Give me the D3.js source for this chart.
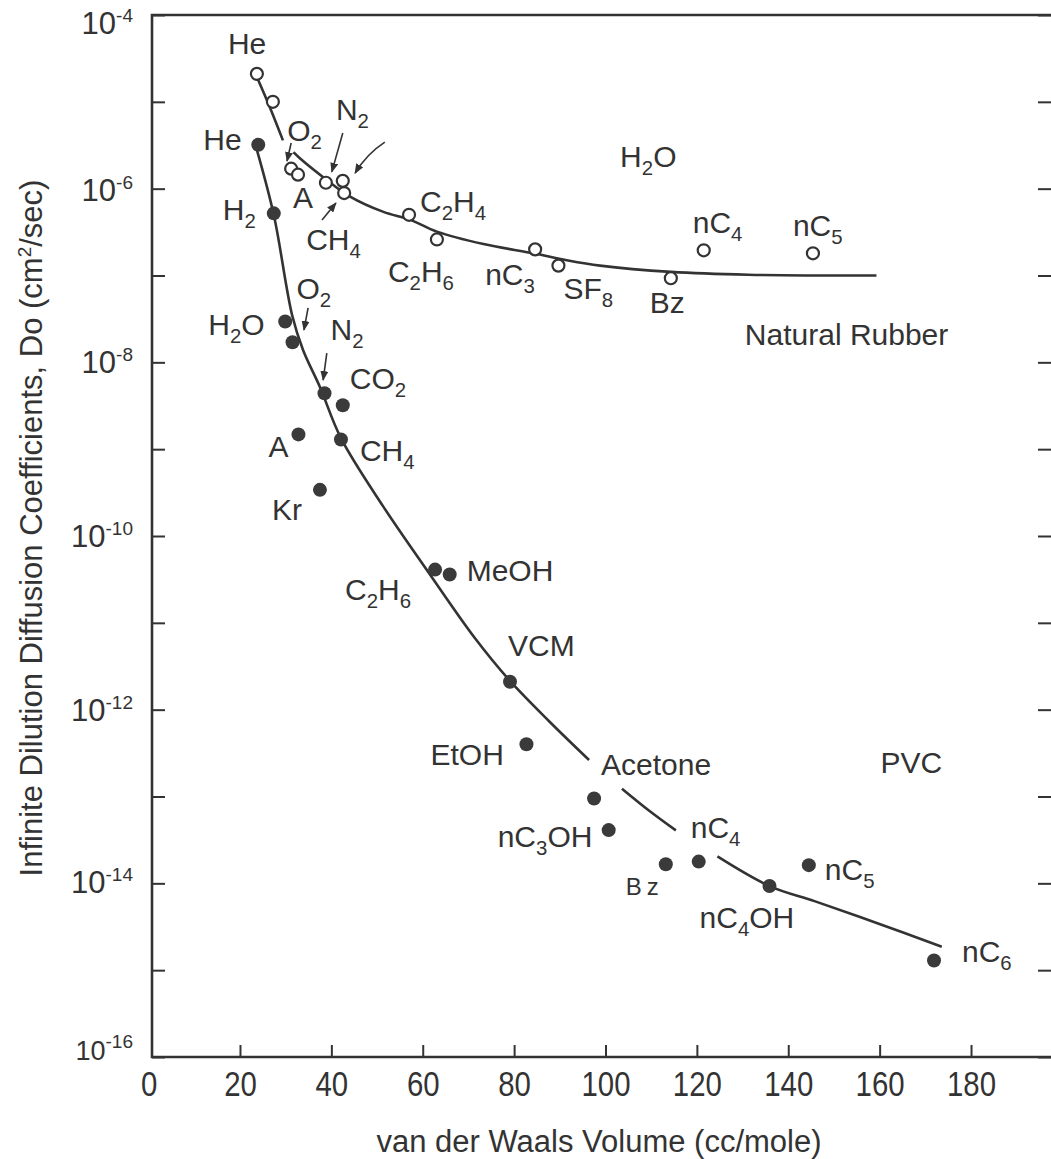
<!DOCTYPE html>
<html>
<head>
<meta charset="utf-8">
<script src="https://cdn.jsdelivr.net/npm/d3@7"></script>
<style>
  body { margin: 0; background: #fff; }
  svg { display: block; font-family: "Liberation Sans", Arial, sans-serif; }
</style>
</head>
<body>
<div id="chart"></div>
<script>
// natural rubber, open circles
const rubberGases = ["He", "", "O2", "A", "N2", "", "CH4", "C2H4", "C2H6", "nC3", "SF8", "Bz", "nC4", "nC5"];
const rubberVolume = [23.7, 27.2, 31.2, 32.7, 38.8, 42.5, 42.8, 57.0, 63.1, 84.6, 89.7, 114.3, 121.5, 145.4];
const rubberDo = [2.1e-5, 1.0e-5, 1.7e-6, 1.45e-6, 1.17e-6, 1.23e-6, 8.9e-7, 5.0e-7, 2.6e-7, 2.0e-7, 1.3e-7, 9.3e-8, 1.95e-7, 1.8e-7];

// PVC, filled circles
const pvcGases = ["He", "H2", "H2O", "O2", "N2", "CO2", "A", "CH4", "Kr", "C2H6", "MeOH", "VCM", "EtOH", "Acetone", "nC3OH", "Bz", "nC4", "nC4OH", "nC5", "nC6"];
const pvcVolume = [24.0, 27.4, 29.9, 31.5, 38.5, 42.5, 32.8, 42.1, 37.5, 62.7, 65.9, 79.1, 82.7, 97.5, 100.7, 113.2, 120.4, 135.9, 144.5, 171.9];
const pvcDo = [3.2e-6, 5.2e-7, 2.95e-8, 1.7e-8, 4.4e-9, 3.2e-9, 1.48e-9, 1.29e-9, 3.4e-10, 4.1e-11, 3.6e-11, 2.1e-12, 4.0e-13, 9.5e-14, 4.1e-14, 1.66e-14, 1.78e-14, 9.3e-15, 1.62e-14, 1.29e-15];

// hand drawn fit curves [volume, Do], broken where a label sits
const rubberCurve = [
  [[23.7, 1.93e-5], [26.6, 8.5e-6], [29.4, 3.6e-6]],
  [[31.7, 2.63e-6], [33.1, 2.24e-6], [39.0, 1.26e-6], [44.1, 8.1e-7], [51.4, 5.4e-7], [57.2, 4.4e-7],
   [63.1, 3.2e-7], [73.3, 2.3e-7], [84.2, 1.8e-7], [91.5, 1.5e-7], [98.8, 1.3e-7], [114.3, 1.1e-7],
   [131.2, 1.02e-7], [159.3, 1.0e-7]]
];
const pvcCurve = [
  [[23.7, 2.79e-6], [27.45, 4.84e-7], [31.4, 3.51e-8], [33.8, 1.39e-8], [37.5, 5.2e-9], [42.1, 1.34e-9],
   [51.3, 2.21e-10], [60.9, 4.06e-11], [71.4, 6.68e-12], [79.1, 2.14e-12], [87.6, 7.4e-13], [96.4, 2.63e-13]],
  [[103.6, 1.23e-13], [109.5, 6.9e-14], [115.4, 4.07e-14]],
  [[124.5, 2.04e-14], [135.9, 9.3e-15], [145.9, 6.2e-15], [159.5, 3.47e-15], [173.6, 1.86e-15]]
];

// pointer arrows [fromVolume, fromDo, toVolume, toDo]
const arrows = [
  [31.2, 3.36e-6, 30.3, 2.08e-6],
  [42.5, 4.38e-6, 40.1, 1.56e-6],
  [51.7, 3.44e-6, 45.2, 1.51e-6],
  [37.95, 4.36e-7, 41.0, 6.84e-7],
  [34.9, 4.23e-8, 34.0, 2.36e-8],
  [39.0, 1.28e-8, 38.2, 6.25e-9]
];
const arrowBend = [0, 0, 5, 0, 0, 0];

// free texts [text, volume, Do]
const notes = [["H2O", 103.2, 1.78e-6], ["Natural Rubber", 130.5, 1.58e-8], ["PVC", 160.2, 1.86e-13]];

const xTicks = [0, 20, 40, 60, 80, 100, 120, 140, 160, 180];
const yDecades = d3.range(-4, -17, -1);
const yLabelled = [-4, -6, -8, -10, -12, -14, -16];
// the pasted-up labels do not sit at the same height against their tick
const yLabelShift = [19, 12, 11, 11, 11, 10, 3];

// label offsets in px from each point (text start, baseline)
const rubberLabelPos = [[-29, -20], null, [-4, -28], [-5, 33], [10, -63], null, [-38, 57], [11, -3],
  [-49, 43], [-50, 36], [5, 33], [-21, 35], [-11, -17], [-20, -17]];
const pvcLabelPos = [[-55, 5], [-51, 7], [-77, 13], [4, -43], [6, -53], [7, -16], [-30, 23], [19, 21],
  [-48, 30], [-90, 30], [17, 6], [-2, -26], [-96, 21], [7, -23], [-111, 17], [-40, 31], [-8, -24],
  [-70, 42], [16, 15], [28, 1]];

const width = 1051, height = 1159;
const ink = "#333";
const labelSize = 30;
const frame = { left: 152, top: 15, right: 1051, bottom: 1057 };

const x = d3.scaleLinear().domain([0, 200]).range([148.6, 148.6 + 4.569 * 200]);
const y = d3.scaleLog().domain([1e-4, 1e-16]).range([frame.top, frame.bottom]);

const svg = d3.select("#chart").append("svg")
  .attr("width", width).attr("height", height);

svg.append("defs").append("marker")
  .attr("id", "head").attr("viewBox", "0 0 10 8")
  .attr("refX", 9).attr("refY", 4)
  .attr("markerWidth", 10).attr("markerHeight", 8)
  .attr("markerUnits", "userSpaceOnUse")
  .attr("orient", "auto")
  .append("path").attr("d", "M0,0L10,4L0,8Z").attr("fill", ink);

// frame
svg.append("path")
  .attr("d", `M${frame.right},${frame.top}H${frame.left}V${frame.bottom}H${frame.right}`)
  .attr("fill", "none").attr("stroke", ink).attr("stroke-width", 2.6);

// axes (ticks point inwards)
const leftAxis = svg.append("g").attr("transform", `translate(${frame.left},0)`)
  .call(d3.axisLeft(y).tickValues(yDecades.map(p => Math.pow(10, p))).tickSize(-13).tickFormat(""));
const rightAxis = svg.append("g").attr("transform", `translate(${frame.right},0)`)
  .call(d3.axisRight(y).tickValues(yDecades.map(p => Math.pow(10, p))).tickSize(-13).tickFormat(""));
const bottomAxis = svg.append("g").attr("transform", `translate(0,${frame.bottom})`)
  .call(d3.axisBottom(x).tickValues(xTicks).tickSize(-12).tickPadding(14));
[leftAxis, rightAxis, bottomAxis].forEach(g => {
  g.select(".domain").remove();
  g.selectAll(".tick line").attr("stroke", ink).attr("stroke-width", 2);
});
bottomAxis.selectAll(".tick").filter(d => d === 0).select("line").remove();
bottomAxis.selectAll(".tick text")
  .attr("fill", ink).attr("font-size", 35)
  .attr("transform", "scale(0.84,1)")
  .attr("font-family", "'Liberation Sans', Arial, sans-serif");

// y tick labels 10^n
const yLab = svg.append("g").attr("fill", ink);
yLabelled.forEach((p, i) => {
  const t = yLab.append("text")
    .attr("x", 133).attr("y", y(Math.pow(10, p)) + yLabelShift[i])
    .attr("text-anchor", "end").attr("font-size", i === yLabelled.length - 1 ? 27 : 31);
  t.append("tspan").text("10");
  t.append("tspan").attr("font-size", 19).attr("dy", -12).text("-" + Math.abs(p));
});

// axis titles
svg.append("text")
  .attr("x", 599).attr("y", 1152)
  .attr("text-anchor", "middle").attr("font-size", 31).attr("fill", ink)
  .text("van der Waals Volume (cc/mole)");
const yt = svg.append("text")
  .attr("transform", "translate(42,528) rotate(-90)")
  .attr("text-anchor", "middle").attr("font-size", 31).attr("fill", ink);
yt.append("tspan").text("Infinite Dilution Diffusion Coefficients, Do (cm");
yt.append("tspan").attr("font-size", 19).attr("dy", -11).text("2");
yt.append("tspan").attr("dy", 11).text("/sec)");

// curves
const line = d3.line().x(d => x(d[0])).y(d => y(d[1])).curve(d3.curveCatmullRom.alpha(0.5));
svg.append("g").selectAll("path")
  .data(rubberCurve.concat(pvcCurve))
  .join("path")
  .attr("d", line)
  .attr("fill", "none").attr("stroke", ink).attr("stroke-width", 2.6);

// arrows, the third one slightly bowed
svg.append("g").selectAll("path")
  .data(arrows)
  .join("path")
  .attr("d", (d, i) => {
    const x1 = x(d[0]), y1 = y(d[1]), x2 = x(d[2]), y2 = y(d[3]);
    const dx = x2 - x1, dy = y2 - y1, len = Math.hypot(dx, dy);
    const cx = (x1 + x2) / 2 - dy / len * arrowBend[i];
    const cy = (y1 + y2) / 2 + dx / len * arrowBend[i];
    return `M${x1},${y1}Q${cx},${cy} ${x2},${y2}`;
  })
  .attr("fill", "none")
  .attr("stroke", ink).attr("stroke-width", 1.6)
  .attr("marker-end", "url(#head)");

// points
svg.append("g").selectAll("circle")
  .data(d3.range(rubberVolume.length))
  .join("circle")
  .attr("cx", i => x(rubberVolume[i])).attr("cy", i => y(rubberDo[i]))
  .attr("r", 6)
  .attr("fill", "#fff").attr("stroke", ink).attr("stroke-width", 2.2);

svg.append("g").selectAll("circle")
  .data(d3.range(pvcVolume.length))
  .join("circle")
  .attr("cx", i => x(pvcVolume[i])).attr("cy", i => y(pvcDo[i]))
  .attr("r", 7)
  .attr("fill", "#3a3a3a");

// chemical formula text with subscript digits
function formula(g, str, px, py, size) {
  const t = g.append("text").attr("x", px).attr("y", py).attr("font-size", size);
  const parts = str.match(/\d+|\D+/g);
  let down = false;
  parts.forEach(s => {
    const isSub = /^\d+$/.test(s);
    const ts = t.append("tspan").text(s);
    if (isSub) { ts.attr("font-size", size * 0.68).attr("dy", 8); down = true; }
    else if (down) { ts.attr("dy", -8); down = false; }
  });
  return t;
}

const labels = svg.append("g").attr("fill", ink);
rubberGases.forEach((name, i) => {
  const off = rubberLabelPos[i];
  if (!name || !off) return;
  formula(labels, name, x(rubberVolume[i]) + off[0], y(rubberDo[i]) + off[1], labelSize);
});
pvcGases.forEach((name, i) => {
  const off = pvcLabelPos[i];
  const t = formula(labels, name, x(pvcVolume[i]) + off[0], y(pvcDo[i]) + off[1], name === "Bz" ? 24 : labelSize);
  if (name === "Bz") t.attr("letter-spacing", 5);
});
notes.forEach(n => formula(labels, n[0], x(n[1]), y(n[2]), labelSize));
</script>
</body>
</html>
